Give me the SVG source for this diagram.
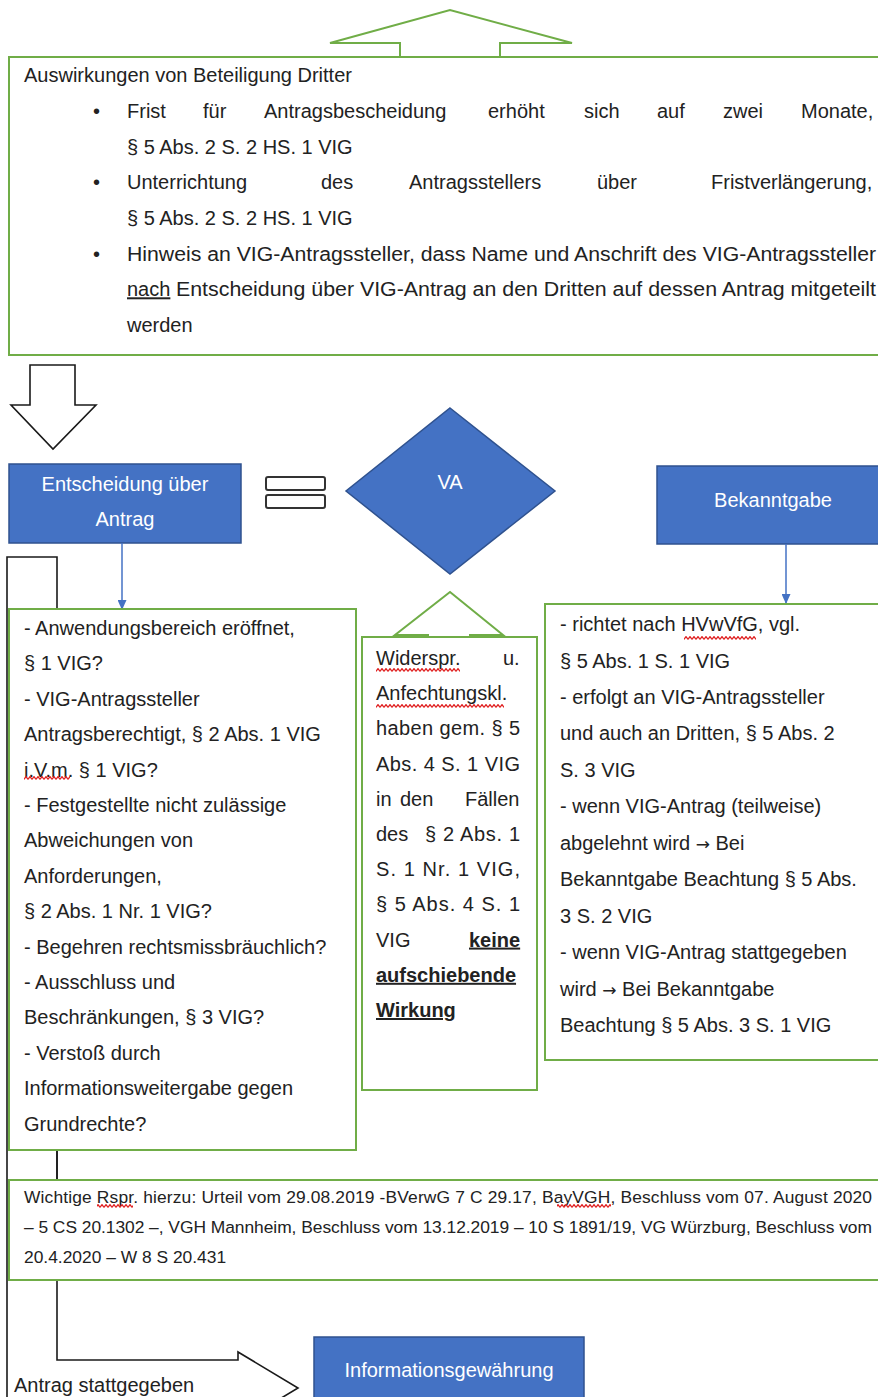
<svg xmlns="http://www.w3.org/2000/svg" width="878" height="1397" viewBox="0 0 878 1397">
<defs>
<style>
text{font-family:"Liberation Sans",Arial,sans-serif;font-size:20px;fill:#222}
.w{fill:#fff;text-anchor:middle}
.ref{font-size:17.4px}
.g{fill:#fff;stroke:#70AD47;stroke-width:2}
.b{fill:#4472C4;stroke:#2F528F;stroke-width:1.5}
.k{fill:#fff;stroke:#1a1a1a;stroke-width:1.6}
.u{text-decoration:underline}
.bd{font-weight:bold}
.sq{fill:url(#wave)}
.ar{font-family:"DejaVu Sans",sans-serif;font-size:17px}
</style>
<pattern id="wave" width="4" height="4" patternUnits="userSpaceOnUse"><path d="M0 3.4 L2 0.6 L4 3.4" fill="none" stroke="#e02020" stroke-width="1.2"/></pattern>
<marker id="ah" markerWidth="10" markerHeight="9" refX="9" refY="4.5" orient="auto" markerUnits="userSpaceOnUse"><path d="M0 0 L10 4.5 L0 9 Z" fill="#4472C4"/></marker>
</defs>
<rect width="878" height="1397" fill="#fff"/>

<g id="bent-arrow">
<path class="k" d="M7 557 L57 557 L57 1360 L238 1360 L238 1352 L298 1388 L238 1424 L238 1416 L7 1416 Z"/>
</g>

<g id="top-up-arrow">
<path class="g" d="M400 60 L400 43 L330 43 L450 10 L572 43 L500 43 L500 60"/>
</g>

<g id="box-auswirkungen">
<rect class="g" x="9" y="57" width="890" height="298"/>
<text x="24" y="82">Auswirkungen von Beteiligung Dritter</text>
<text x="93" y="118">•</text>
<text y="118"><tspan x="127">Frist</tspan><tspan x="203">für</tspan><tspan x="264">Antragsbescheidung</tspan><tspan x="488">erhöht</tspan><tspan x="584">sich</tspan><tspan x="657">auf</tspan><tspan x="723">zwei</tspan><tspan x="801">Monate,</tspan></text>
<text x="127" y="153.7">§ 5 Abs. 2 S. 2 HS. 1 VIG</text>
<text x="93" y="189.3">•</text>
<text y="189.3"><tspan x="127">Unterrichtung</tspan><tspan x="321">des</tspan><tspan x="409">Antragsstellers</tspan><tspan x="597">über</tspan><tspan x="711">Fristverlängerung,</tspan></text>
<text x="127" y="225">§ 5 Abs. 2 S. 2 HS. 1 VIG</text>
<text x="93" y="260.7">•</text>
<text x="127" y="260.7" textLength="749" lengthAdjust="spacingAndGlyphs">Hinweis an VIG-Antragssteller, dass Name und Anschrift des VIG-Antragssteller</text>
<text x="127" y="296.3" class="u">nach</text>
<text x="176" y="296.3" textLength="700" lengthAdjust="spacingAndGlyphs">Entscheidung über VIG-Antrag an den Dritten auf dessen Antrag mitgeteilt</text>
<text x="127" y="332">werden</text>
</g>

<g id="down-arrow">
<path class="k" d="M30 365 L75 365 L75 405 L96 405 L53 449 L11 405 L30 405 Z"/>
</g>

<g id="entscheidung">
<rect class="b" x="9" y="464" width="232" height="79"/>
<text class="w" x="125" y="491">Entscheidung über</text>
<text class="w" x="125" y="526">Antrag</text>
</g>

<g id="equals">
<rect x="266" y="477" width="59" height="13" rx="2" fill="#fff" stroke="#333" stroke-width="2"/>
<rect x="266" y="495" width="59" height="13" rx="2" fill="#fff" stroke="#333" stroke-width="2"/>
</g>

<g id="va">
<path class="b" d="M450 408 L555 491 L450 574 L346 491 Z"/>
<text class="w" x="450" y="489">VA</text>
</g>

<g id="bekanntgabe">
<rect class="b" x="657" y="466" width="240" height="78"/>
<text class="w" x="773" y="507">Bekanntgabe</text>
</g>

<g id="connectors">
<path d="M122 543 L122 609" fill="none" stroke="#4472C4" stroke-width="1.5" marker-end="url(#ah)"/>
<path d="M786 544 L786 603" fill="none" stroke="#4472C4" stroke-width="1.5" marker-end="url(#ah)"/>
<path d="M57 1150 L57 1180" fill="none" stroke="#1a1a1a" stroke-width="1.6"/>
</g>

<g id="box-pruefung">
<rect class="g" x="9" y="609" width="347" height="541"/>
<text x="24" y="635">- Anwendungsbereich eröffnet,</text>
<text x="24" y="670.4">§ 1 VIG?</text>
<text x="24" y="705.8">- VIG-Antragssteller</text>
<text x="24" y="741.2">Antragsberechtigt, § 2 Abs. 1 VIG</text>
<text x="24" y="776.6">i.V.m. § 1 VIG?</text>
<rect class="sq" x="24" y="776" width="46" height="4"/>
<text x="24" y="812">- Festgestellte nicht zulässige</text>
<text x="24" y="847.4">Abweichungen von</text>
<text x="24" y="882.8">Anforderungen,</text>
<text x="24" y="918.2">§ 2 Abs. 1 Nr. 1 VIG?</text>
<text x="24" y="953.6">- Begehren rechtsmissbräuchlich?</text>
<text x="24" y="989">- Ausschluss und</text>
<text x="24" y="1024.4">Beschränkungen, § 3 VIG?</text>
<text x="24" y="1059.8">- Verstoß durch</text>
<text x="24" y="1095.2">Informationsweitergabe gegen</text>
<text x="24" y="1130.6">Grundrechte?</text>
</g>

<g id="mid-up-arrow">
<path class="g" d="M428 640 L428 635 L395 635 L450 592 L503 635 L470 635 L470 640"/>
</g>

<g id="box-widerspruch">
<rect class="g" x="362" y="637" width="175" height="453"/>
<text y="665"><tspan x="376">Widerspr.</tspan><tspan x="503">u.</tspan></text>
<rect class="sq" x="376" y="668" width="84" height="4"/>
<text x="376" y="700.2">Anfechtungskl.</text>
<rect class="sq" x="376" y="704" width="128" height="4"/>
<text x="376" y="735.4" textLength="144" lengthAdjust="spacing">haben gem. § 5</text>
<text x="376" y="770.6" textLength="144" lengthAdjust="spacing">Abs. 4 S. 1 VIG</text>
<text y="805.8"><tspan x="376">in</tspan><tspan x="400">den</tspan><tspan x="465">Fällen</tspan></text>
<text y="841"><tspan x="376">des</tspan></text>
<text x="425" y="841" textLength="95" lengthAdjust="spacing">§ 2 Abs. 1</text>
<text x="376" y="876.2" textLength="144" lengthAdjust="spacing">S. 1 Nr. 1 VIG,</text>
<text x="376" y="911.4" textLength="144" lengthAdjust="spacing">§ 5 Abs. 4 S. 1</text>
<text x="376" y="946.6">VIG</text>
<text x="469" y="946.6" class="bd u">keine</text>
<text x="376" y="981.8" class="bd u">aufschiebende</text>
<text x="376" y="1017" class="bd u">Wirkung</text>
</g>

<g id="box-bekanntgabe">
<rect class="g" x="545" y="604" width="350" height="456"/>
<text x="560" y="631">- richtet nach HVwVfG, vgl.</text>
<rect class="sq" x="684" y="636" width="72" height="4"/>
<text x="560" y="667.5">§ 5 Abs. 1 S. 1 VIG</text>
<text x="560" y="703.9">- erfolgt an VIG-Antragssteller</text>
<text x="560" y="740.4">und auch an Dritten, § 5 Abs. 2</text>
<text x="560" y="776.8">S. 3 VIG</text>
<text x="560" y="813.3">- wenn VIG-Antrag (teilweise)</text>
<text x="560" y="849.7">abgelehnt wird <tspan class="ar">→</tspan> Bei</text>
<text x="560" y="886.2">Bekanntgabe Beachtung § 5 Abs.</text>
<text x="560" y="922.6">3 S. 2 VIG</text>
<text x="560" y="959.1">- wenn VIG-Antrag stattgegeben</text>
<text x="560" y="995.5">wird <tspan class="ar">→</tspan> Bei Bekanntgabe</text>
<text x="560" y="1032">Beachtung § 5 Abs. 3 S. 1 VIG</text>
</g>

<g id="box-rspr">
<rect class="g" x="9" y="1180" width="890" height="100"/>
<text class="ref" x="24" y="1203" textLength="848" lengthAdjust="spacing">Wichtige Rspr. hierzu: Urteil vom 29.08.2019 -BVerwG 7 C 29.17, BayVGH, Beschluss vom 07. August 2020</text>
<rect class="sq" x="97" y="1204" width="36" height="4"/>
<rect class="sq" x="557" y="1204" width="54" height="4"/>
<text class="ref" x="24" y="1233" textLength="848" lengthAdjust="spacing">– 5 CS 20.1302 –, VGH Mannheim, Beschluss vom 13.12.2019 – 10 S 1891/19, VG Würzburg, Beschluss vom</text>
<text class="ref" x="24" y="1263">20.4.2020 – W 8 S 20.431</text>
</g>

<g id="label-stattgegeben">
<text x="14" y="1392">Antrag stattgegeben</text>
</g>

<g id="informationsgewaehrung">
<rect class="b" x="314" y="1337" width="270" height="75"/>
<text class="w" x="449" y="1377">Informationsgewährung</text>
</g>
</svg>
